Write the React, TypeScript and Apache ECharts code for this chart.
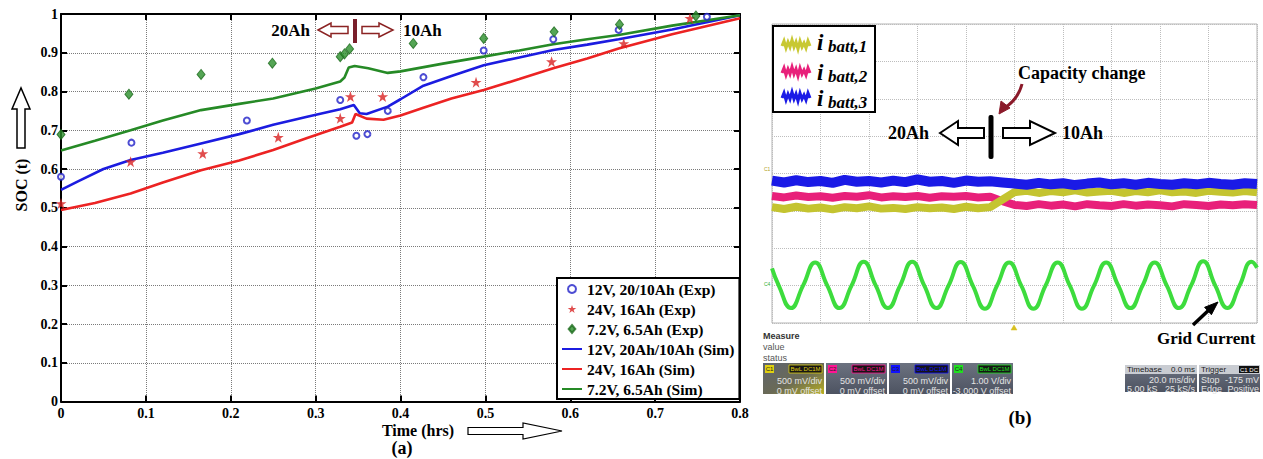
import React, { useEffect, useRef } from "react";
import * as echarts from "echarts";

// ---------- Panel (a): SOC vs time ----------
const exp12Time = [0, 0.083, 0.219, 0.329, 0.348, 0.361, 0.385, 0.427, 0.498, 0.58, 0.657, 0.761];
const exp12Soc = [0.58, 0.668, 0.725, 0.778, 0.686, 0.69, 0.75, 0.837, 0.906, 0.935, 0.959, 0.993];

const exp24Time = [0, 0.082, 0.167, 0.256, 0.329, 0.341, 0.379, 0.489, 0.578, 0.663, 0.741];
const exp24Soc = [0.511, 0.619, 0.64, 0.682, 0.731, 0.787, 0.787, 0.824, 0.877, 0.924, 0.989];

const exp72Time = [0, 0.08, 0.165, 0.249, 0.329, 0.334, 0.34, 0.415, 0.498, 0.581, 0.658, 0.748];
const exp72Soc = [0.689, 0.793, 0.844, 0.873, 0.89, 0.897, 0.91, 0.924, 0.937, 0.954, 0.973, 0.995];

const sim12Time = [0, 0.02, 0.05, 0.082, 0.12, 0.165, 0.21, 0.25, 0.29, 0.329, 0.345, 0.352, 0.36, 0.385, 0.4, 0.427, 0.46, 0.498, 0.54, 0.58, 0.62, 0.657, 0.72, 0.8];
const sim12Soc = [0.546, 0.568, 0.6, 0.623, 0.642, 0.666, 0.69, 0.714, 0.735, 0.754, 0.765, 0.744, 0.742, 0.761, 0.78, 0.815, 0.84, 0.868, 0.888, 0.907, 0.921, 0.935, 0.96, 0.997];

const sim24Time = [0, 0.04, 0.082, 0.12, 0.165, 0.21, 0.25, 0.29, 0.329, 0.343, 0.347, 0.36, 0.38, 0.4, 0.427, 0.46, 0.498, 0.54, 0.58, 0.62, 0.657, 0.72, 0.8];
const sim24Soc = [0.494, 0.512, 0.537, 0.565, 0.597, 0.622, 0.649, 0.68, 0.709, 0.72, 0.742, 0.73, 0.727, 0.738, 0.758, 0.782, 0.804, 0.832, 0.86, 0.885, 0.911, 0.948, 0.989];

const sim72Time = [0, 0.04, 0.082, 0.12, 0.165, 0.21, 0.25, 0.3, 0.329, 0.334, 0.339, 0.346, 0.362, 0.385, 0.4, 0.45, 0.498, 0.54, 0.58, 0.62, 0.657, 0.72, 0.8];
const sim72Soc = [0.648, 0.673, 0.7, 0.725, 0.752, 0.768, 0.782, 0.808, 0.826, 0.836, 0.862, 0.866, 0.86, 0.848, 0.852, 0.872, 0.89, 0.906, 0.922, 0.935, 0.946, 0.97, 0.997];

const legendNames = [
  "12V, 20/10Ah (Exp)",
  "24V, 16Ah (Exp)",
  "7.2V, 6.5Ah (Exp)",
  "12V, 20Ah/10Ah (Sim)",
  "24V, 16Ah (Sim)",
  "7.2V, 6.5Ah (Sim)",
];

// ---------- Panel (b): oscilloscope (in divisions) ----------
const scopeTime = [0, 0.25, 0.5, 0.75, 1, 1.25, 1.5, 1.75, 2, 2.25, 2.5, 2.75, 3, 3.25, 3.5, 3.75, 4, 4.25, 4.5, 4.75, 5, 5.25, 5.5, 5.75, 6, 6.25, 6.5, 6.75, 7, 7.25, 7.5, 7.75, 8, 8.25, 8.5, 8.75, 9, 9.25, 9.5, 9.75, 10];
const iBatt1 = [-0.9, -0.95, -0.89, -0.94, -0.91, -0.96, -0.9, -0.93, -0.88, -0.94, -0.92, -0.95, -0.9, -0.93, -0.91, -0.95, -0.89, -0.93, -0.9, -0.7, -0.5, -0.46, -0.52, -0.47, -0.5, -0.45, -0.51, -0.48, -0.46, -0.52, -0.47, -0.5, -0.45, -0.5, -0.48, -0.52, -0.46, -0.49, -0.51, -0.47, -0.5];
const iBatt2 = [-0.6, -0.64, -0.59, -0.63, -0.61, -0.65, -0.6, -0.62, -0.58, -0.64, -0.61, -0.63, -0.6, -0.65, -0.61, -0.62, -0.6, -0.64, -0.62, -0.74, -0.84, -0.87, -0.82, -0.86, -0.83, -0.88, -0.82, -0.85, -0.87, -0.82, -0.86, -0.83, -0.85, -0.88, -0.82, -0.84, -0.87, -0.83, -0.85, -0.82, -0.84];
const iBatt3 = [-0.19, -0.24, -0.18, -0.23, -0.2, -0.25, -0.17, -0.22, -0.2, -0.24, -0.19, -0.23, -0.16, -0.22, -0.2, -0.25, -0.19, -0.22, -0.21, -0.24, -0.27, -0.3, -0.25, -0.29, -0.26, -0.31, -0.27, -0.24, -0.29, -0.26, -0.3, -0.25, -0.28, -0.3, -0.26, -0.29, -0.25, -0.28, -0.3, -0.26, -0.28];

const gridTime = [0, 0.14, 0.39, 0.64, 0.89, 1.14, 1.39, 1.64, 1.89, 2.14, 2.39, 2.64, 2.89, 3.14, 3.39, 3.64, 3.89, 4.14, 4.39, 4.64, 4.89, 5.14, 5.39, 5.64, 5.89, 6.14, 6.39, 6.64, 6.89, 7.14, 7.39, 7.64, 7.89, 8.14, 8.39, 8.64, 8.89, 9.14, 9.39, 9.64, 9.89, 10];
const gridCurrent = [-2.54, -3.0, -3.6, -3.0, -2.38, -3.0, -3.6, -3.0, -2.36, -3.0, -3.6, -3.0, -2.36, -3.0, -3.6, -3.0, -2.37, -3.0, -3.62, -3.0, -2.38, -3.0, -3.62, -3.0, -2.38, -3.0, -3.62, -3.0, -2.38, -3.0, -3.6, -3.0, -2.38, -3.0, -3.6, -3.0, -2.35, -3.0, -3.6, -3.0, -2.36, -2.52];

const zip = (a: number[], b: number[]) => a.map((v, i) => [v, b[i]]);

const SERIF = "Liberation Serif";
const SANS = "Liberation Sans";
const STAR = "path://M50,0L61.8,35.1L98.9,35.1L68.9,56.8L80.3,91.9L50,70.2L19.7,91.9L31.1,56.8L1.1,35.1L38.2,35.1Z";
const DIAMOND = "path://M5,0L10,6L5,12L0,6Z";

function txt(x: number, y: number, text: string, o: any = {}) {
  const align = o.align || "left";
  const va = o.va || "middle";
  const style: any = {
    text,
    fontFamily: o.font || SERIF,
    fontSize: o.size || 16,
    fontWeight: o.weight || "bold",
    fontStyle: o.style || "normal",
    fill: o.color || "#000",
    align,
    textAlign: align,
    verticalAlign: va,
    textVerticalAlign: va,
  };
  if (o.lineHeight) style.lineHeight = o.lineHeight;
  return { type: "text", x, y, z: o.z || 20, silent: true, rotation: o.rotation || 0, style };
}

function poly(points: number[][], stroke: string, fill: string, lw = 1.5) {
  return { type: "polygon", z: 20, silent: true, shape: { points }, style: { stroke, fill, lineWidth: lw } };
}

function rect(x: number, y: number, w: number, h: number, fill: any, stroke?: string, lw = 1) {
  return {
    type: "rect",
    z: 20,
    silent: true,
    shape: { x, y, width: w, height: h },
    style: { fill, stroke: stroke || "none", lineWidth: lw },
  };
}

const boxFill = { type: "linear", x: 0, y: 0, x2: 0, y2: 1, colorStops: [{ offset: 0, color: "#6c7280" }, { offset: 1, color: "#4d5361" }] };

function channelBox(x: number, color: string, tag: string, l1: string, l2: string, yellowGlow: boolean) {
  const y = 363;
  const w = 61;
  const fill = yellowGlow
    ? { type: "linear", x: 0, y: 0, x2: 1, y2: 1, colorStops: [{ offset: 0, color: "#5f6470" }, { offset: 0.55, color: "#6a6a55" }, { offset: 1, color: "#b8b020" }] }
    : boxFill;
  return [
    rect(x, y, w, 31, fill),
    rect(x + 2, y + 2, 9, 8, color),
    txt(x + 6.5, y + 6, tag, { size: 6, font: SANS, weight: "normal", color: "#222", align: "center" }),
    rect(x + 26, y + 2, 33, 8, "#151515", color, 0.8),
    txt(x + 42.5, y + 6.2, "BwL DC1M", { size: 6, font: SANS, weight: "normal", color, align: "center" }),
    txt(x + 59, y + 18, l1, { size: 9, font: SANS, weight: "normal", color: "#e4e4e4", align: "right" }),
    txt(x + 59, y + 27.5, l2, { size: 9, font: SANS, weight: "normal", color: "#e4e4e4", align: "right" }),
  ];
}

function zig(x0: number, y0: number, color: string) {
  const pattern = [1, -4, 3, -3, 2, -5, 2, -3, 4, -4, 2, -2, 3, -4, 1];
  const pts = pattern.map((d, i) => [x0 + i * 2, y0 + d]);
  return { type: "polyline", z: 21, silent: true, shape: { points: pts }, style: { stroke: color, lineWidth: 3, fill: "none" } };
}

export default function App() {
  const ref = useRef<HTMLDivElement>(null);

  useEffect(() => {
    if (!ref.current) return;
    const chart = echarts.init(ref.current, null, { renderer: "svg" });

    const labelStyle = { fontFamily: SERIF, fontWeight: "bold", fontSize: 14, color: "#000" };
    const fmt = (v: number) => String(Math.round(v * 10) / 10);
    const blackLine = { show: true, onZero: false, lineStyle: { color: "#000", width: 2 } };
    const inTick = { show: true, inside: true, length: 6, lineStyle: { color: "#000", width: 2 } };
    const dotted = { show: true, lineStyle: { type: "dotted", color: "#7a7a7a", width: 1 } };
    const scopeDotted = { show: true, lineStyle: { type: "dotted", color: "#bdbdbd", width: 1 } };

    const graphics: any[] = [
      // panel (a) annotations
      txt(21, 185, "SOC (t)", { size: 16, rotation: Math.PI / 2, align: "center" }),
      poly([[17, 148], [25, 148], [25, 109], [30, 109], [21, 88], [12, 109], [17, 109]], "#000", "#fff", 1.5),
      txt(418, 430, "Time (hrs)", { size: 16, align: "center" }),
      poly([[468, 427.5], [523, 427.5], [523, 423], [562, 431], [523, 439], [523, 434.5], [468, 434.5]], "#000", "#fff", 1.2),
      txt(402, 448, "(a)", { size: 18, align: "center" }),
      txt(310, 30, "20Ah", { size: 17, align: "right" }),
      poly([[318, 30], [331, 23], [331, 26.5], [348, 26.5], [348, 33.5], [331, 33.5], [331, 37]], "#8b2323", "#fff", 1.5),
      rect(353, 19, 4, 24, "#7a1f2b"),
      poly([[362, 26.5], [379, 26.5], [379, 23], [393, 30], [379, 37], [379, 33.5], [362, 33.5]], "#8b2323", "#fff", 1.5),
      txt(403, 30, "10Ah", { size: 17 }),

      // panel (b) legend
      rect(773, 26, 102, 86, "#fff", "#000", 2),
      zig(782, 45, "#c8c832"),
      zig(782, 72, "#e8207a"),
      zig(782, 97, "#1a1ae6"),
      txt(817, 42, "i", { size: 23, style: "italic", lineHeight: 18 }),
      txt(828, 46, "batt,1", { size: 17, style: "italic", lineHeight: 16 }),
      txt(817, 72, "i", { size: 23, style: "italic", lineHeight: 18 }),
      txt(828, 76, "batt,2", { size: 17, style: "italic", lineHeight: 16 }),
      txt(817, 98, "i", { size: 23, style: "italic", lineHeight: 18 }),
      txt(828, 102, "batt,3", { size: 17, style: "italic", lineHeight: 16 }),

      // panel (b) annotations
      txt(1018, 73, "Capacity change", { size: 18 }),
      {
        type: "bezierCurve",
        z: 20,
        silent: true,
        shape: { x1: 1022, y1: 84, x2: 1003, y2: 109, cpx1: 1018, cpy1: 100 },
        style: { stroke: "#8b1a2a", lineWidth: 3, fill: "none" },
      },
      poly([[999, 114], [1001, 101], [1010, 108]], "#8b1a2a", "#8b1a2a", 1),
      txt(929, 133, "20Ah", { size: 18, align: "right" }),
      poly([[940, 133], [958, 121], [958, 128], [984, 128], [984, 138], [958, 138], [958, 145]], "#000", "#fff", 2),
      { type: "rect", z: 20, silent: true, shape: { x: 988.5, y: 115, width: 5, height: 44, r: 2 }, style: { fill: "#000" } },
      poly([[1003, 128], [1030, 128], [1030, 121], [1055, 133], [1030, 145], [1030, 138], [1003, 138]], "#000", "#fff", 2),
      txt(1062, 133, "10Ah", { size: 18 }),
      txt(1157, 338, "Grid Current", { size: 17 }),
      { type: "line", z: 20, silent: true, shape: { x1: 1193, y1: 325, x2: 1211, y2: 308 }, style: { stroke: "#000", lineWidth: 3.5 } },
      poly([[1218, 302], [1204.6, 307.3], [1211.4, 314.7]], "#000", "#000", 1),
      txt(1020, 417, "(b)", { size: 19, align: "center" }),

      // scope small markers
      txt(764, 169, "C1", { size: 5, font: SANS, weight: "normal", color: "#b0a020" }),
      txt(764, 284, "C4", { size: 5, font: SANS, weight: "normal", color: "#30b030" }),
      poly([[1011, 330], [1017, 330], [1014, 325]], "#d8c020", "#d8c020", 0.5),

      // measure panel
      txt(763, 336, "Measure", { size: 9, font: SANS, weight: "bold", color: "#333" }),
      txt(763, 347, "value", { size: 9, font: SANS, weight: "normal", color: "#555" }),
      txt(763, 358, "status", { size: 9, font: SANS, weight: "normal", color: "#555" }),
      ...channelBox(763, "#e0d010", "C1", "500 mV/div", "0 mV offset", true),
      ...channelBox(826, "#ff1493", "C2", "500 mV/div", "0 mV offset", false),
      ...channelBox(889, "#1010ff", "C3", "500 mV/div", "0 mV offset", false),
      ...channelBox(952, "#20e020", "C4", "1.00 V/div", "-3.000 V offset", false),

      // timebase / trigger boxes
      rect(1125, 365, 72, 27, boxFill),
      rect(1125, 365, 72, 9, "#c9ccd2"),
      txt(1127, 369.5, "Timebase", { size: 8, font: SANS, weight: "normal", color: "#222" }),
      txt(1195, 369.5, "0.0 ms", { size: 8, font: SANS, weight: "normal", color: "#222", align: "right" }),
      txt(1195, 380, "20.0 ms/div", { size: 9, font: SANS, weight: "normal", color: "#e4e4e4", align: "right" }),
      txt(1127, 388.5, "5.00 kS", { size: 9, font: SANS, weight: "normal", color: "#e4e4e4" }),
      txt(1195, 388.5, "25 kS/s", { size: 9, font: SANS, weight: "normal", color: "#e4e4e4", align: "right" }),
      rect(1199, 365, 61, 27, boxFill),
      rect(1199, 365, 61, 9, "#c9ccd2"),
      txt(1201, 369.5, "Trigger", { size: 8, font: SANS, weight: "normal", color: "#222" }),
      rect(1239, 366, 20, 7, "#111"),
      txt(1249, 369.5, "C1 DC", { size: 6, font: SANS, weight: "normal", color: "#fff", align: "center" }),
      txt(1201, 380, "Stop", { size: 9, font: SANS, weight: "normal", color: "#e4e4e4" }),
      txt(1259, 380, "-175 mV", { size: 9, font: SANS, weight: "normal", color: "#e4e4e4", align: "right" }),
      txt(1201, 388.5, "Edge", { size: 9, font: SANS, weight: "normal", color: "#e4e4e4" }),
      txt(1259, 388.5, "Positive", { size: 9, font: SANS, weight: "normal", color: "#e4e4e4", align: "right" }),
    ];

    const hideSym = { opacity: 0 };

    const option: any = {
      animation: false,
      backgroundColor: "#fff",
      grid: [
        { left: 61, top: 14, width: 679, height: 387.5, show: false },
        { left: 772, top: 24, width: 485, height: 299, show: true, borderColor: "#b5b5b5", borderWidth: 1, backgroundColor: "#fff" },
      ],
      legend: {
        data: [
          { name: legendNames[0], icon: "emptyCircle" },
          { name: legendNames[1], icon: STAR },
          { name: legendNames[2], icon: DIAMOND },
          { name: legendNames[3], itemStyle: hideSym },
          { name: legendNames[4], itemStyle: hideSym },
          { name: legendNames[5], itemStyle: hideSym },
        ],
        orient: "vertical",
        left: 557,
        top: 278,
        itemWidth: 20,
        itemHeight: 8,
        itemGap: 4,
        padding: [3, 5, 2, 4],
        backgroundColor: "#fff",
        borderColor: "#000",
        borderWidth: 2,
        selectedMode: false,
        textStyle: { fontFamily: SERIF, fontWeight: "bold", fontSize: 15.5, color: "#000", lineHeight: 15 },
      },
      xAxis: [
        {
          gridIndex: 0, type: "value", min: 0, max: 0.8, interval: 0.1, position: "bottom",
          axisLine: blackLine, axisTick: inTick,
          axisLabel: { ...labelStyle, margin: 5, formatter: fmt },
          splitLine: dotted,
        },
        {
          gridIndex: 0, type: "value", min: 0, max: 0.8, interval: 0.1, position: "top",
          axisLine: blackLine, axisTick: inTick, axisLabel: { show: false }, splitLine: { show: false },
        },
        {
          gridIndex: 1, type: "value", min: 0, max: 10, interval: 1,
          axisLine: { show: false }, axisTick: { show: false }, axisLabel: { show: false }, splitLine: scopeDotted,
        },
      ],
      yAxis: [
        {
          gridIndex: 0, type: "value", min: 0, max: 1, interval: 0.1, position: "left",
          axisLine: blackLine, axisTick: inTick,
          axisLabel: { ...labelStyle, margin: 3, formatter: fmt },
          splitLine: dotted,
        },
        {
          gridIndex: 0, type: "value", min: 0, max: 1, interval: 0.1, position: "right",
          axisLine: blackLine, axisTick: inTick, axisLabel: { show: false }, splitLine: { show: false },
        },
        {
          gridIndex: 1, type: "value", min: -4, max: 4, interval: 1,
          axisLine: { show: false }, axisTick: { show: false }, axisLabel: { show: false }, splitLine: scopeDotted,
        },
      ],
      series: [
        {
          name: legendNames[3], type: "line", xAxisIndex: 0, yAxisIndex: 0, symbol: "none", z: 3,
          data: zip(sim12Time, sim12Soc), lineStyle: { color: "#1c1ce0", width: 2.6 }, itemStyle: { color: "#1c1ce0" },
        },
        {
          name: legendNames[4], type: "line", xAxisIndex: 0, yAxisIndex: 0, symbol: "none", z: 3,
          data: zip(sim24Time, sim24Soc), lineStyle: { color: "#ec2323", width: 2.6 }, itemStyle: { color: "#ec2323" },
        },
        {
          name: legendNames[5], type: "line", xAxisIndex: 0, yAxisIndex: 0, symbol: "none", z: 3,
          data: zip(sim72Time, sim72Soc), lineStyle: { color: "#268a26", width: 2.6 }, itemStyle: { color: "#268a26" },
        },
        {
          name: legendNames[0], type: "scatter", xAxisIndex: 0, yAxisIndex: 0, symbol: "emptyCircle", symbolSize: 6, z: 5,
          data: zip(exp12Time, exp12Soc), itemStyle: { color: "#2020c8", borderColor: "#2020c8", borderWidth: 1.6 },
        },
        {
          name: legendNames[1], type: "scatter", xAxisIndex: 0, yAxisIndex: 0, symbol: STAR, symbolSize: 11, z: 5,
          data: zip(exp24Time, exp24Soc), itemStyle: { color: "#d82020" },
        },
        {
          name: legendNames[2], type: "scatter", xAxisIndex: 0, yAxisIndex: 0, symbol: DIAMOND, symbolSize: [8, 10], z: 5,
          data: zip(exp72Time, exp72Soc), itemStyle: { color: "#2b8f2b", borderColor: "#1d6b1d", borderWidth: 1 },
        },
        // oscilloscope traces
        {
          name: "ibatt,2", type: "line", xAxisIndex: 2, yAxisIndex: 2, symbol: "none", z: 3,
          data: zip(scopeTime, iBatt2), lineStyle: { color: "#e8207a", width: 8 },
        },
        {
          name: "ibatt,1", type: "line", xAxisIndex: 2, yAxisIndex: 2, symbol: "none", z: 3,
          data: zip(scopeTime, iBatt1), lineStyle: { color: "#c4c430", width: 8 },
        },
        {
          name: "ibatt,3", type: "line", xAxisIndex: 2, yAxisIndex: 2, symbol: "none", z: 3,
          data: zip(scopeTime, iBatt3), lineStyle: { color: "#1a1ae6", width: 10 },
        },
        {
          name: "Grid Current", type: "line", xAxisIndex: 2, yAxisIndex: 2, symbol: "none", smooth: 0.5, z: 3,
          data: zip(gridTime, gridCurrent), lineStyle: { color: "#3ddc3d", width: 4 },
        },
      ],
      graphic: { elements: graphics },
    };

    chart.setOption(option);
    return () => chart.dispose();
  }, []);

  return (
    <div
      ref={ref}
      style={{ position: "absolute", left: 0, top: 0, width: 1263, height: 459, background: "#fff" }}
    />
  );
}
